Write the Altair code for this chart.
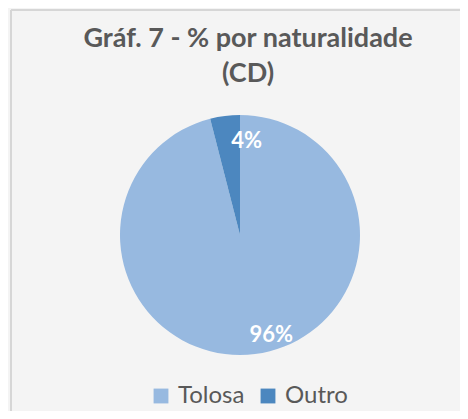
import altair as alt
import pandas as pd

categories = ["Tolosa", "Outro"]
values = [96, 4]
labels = ["96%", "4%"]
order = [0, 1]
colors = ["#97B9E0", "#4C87BF"]

df = pd.DataFrame({"category": categories, "value": values, "label": labels, "ord": order})

W, H = 452, 403
CX, CY = 232, 227

base = alt.Chart(df)

arcs = base.mark_arc(radius=120, stroke=None).encode(
    theta=alt.Theta("value:Q", stack=True),
    color=alt.Color(
        "category:N",
        scale=alt.Scale(domain=categories, range=colors),
        legend=alt.Legend(
            title=None,
            orient="none",
            direction="horizontal",
            legendX=141,
            legendY=376,
            symbolType="square",
            symbolSize=220,
            symbolStrokeWidth=0,
            labelFontSize=24,
            labelFont="Lato",
            labelColor="#595959",
            columnPadding=11,
            labelOffset=5,
        ),
    ),
    order=alt.Order("ord:Q"),
    x=alt.value(CX),
    y=alt.value(CY),
)

texts = base.mark_text(
    radius=98, dx=19, dy=3, font="Lato", fontSize=22, fontWeight="bold", color="white"
).encode(
    theta=alt.Theta("value:Q", stack=True),
    text="label:N",
    order=alt.Order("ord:Q"),
    x=alt.value(CX),
    y=alt.value(CY),
)

border_top = alt.Chart(pd.DataFrame({"a": [0]})).mark_rule(color="#d6d6d6", strokeWidth=2).encode(
    x=alt.value(3), x2=alt.value(W), y=alt.value(2)
)
border_left = alt.Chart(pd.DataFrame({"a": [0]})).mark_rule(color="#d6d6d6", strokeWidth=2).encode(
    x=alt.value(3), y=alt.value(2), y2=alt.value(H)
)

chart = alt.layer(border_top, border_left, arcs, texts).properties(
    width=W,
    height=H,
    title=alt.TitleParams(
        text=["Gráf. 7 - % por naturalidade", "(CD)"],
        font="Lato",
        fontSize=27,
        fontWeight="bold",
        color="#595959",
        anchor="middle",
        frame="group",
        lineHeight=35,
        offset=-80,
        dx=14,
    ),
    autosize=alt.AutoSizeParams(type="none"),
    padding=0,
    background="#f4f4f4",
).configure_view(stroke=None)

chart.save("out.html", embed_options={"renderer": "svg", "actions": False})
